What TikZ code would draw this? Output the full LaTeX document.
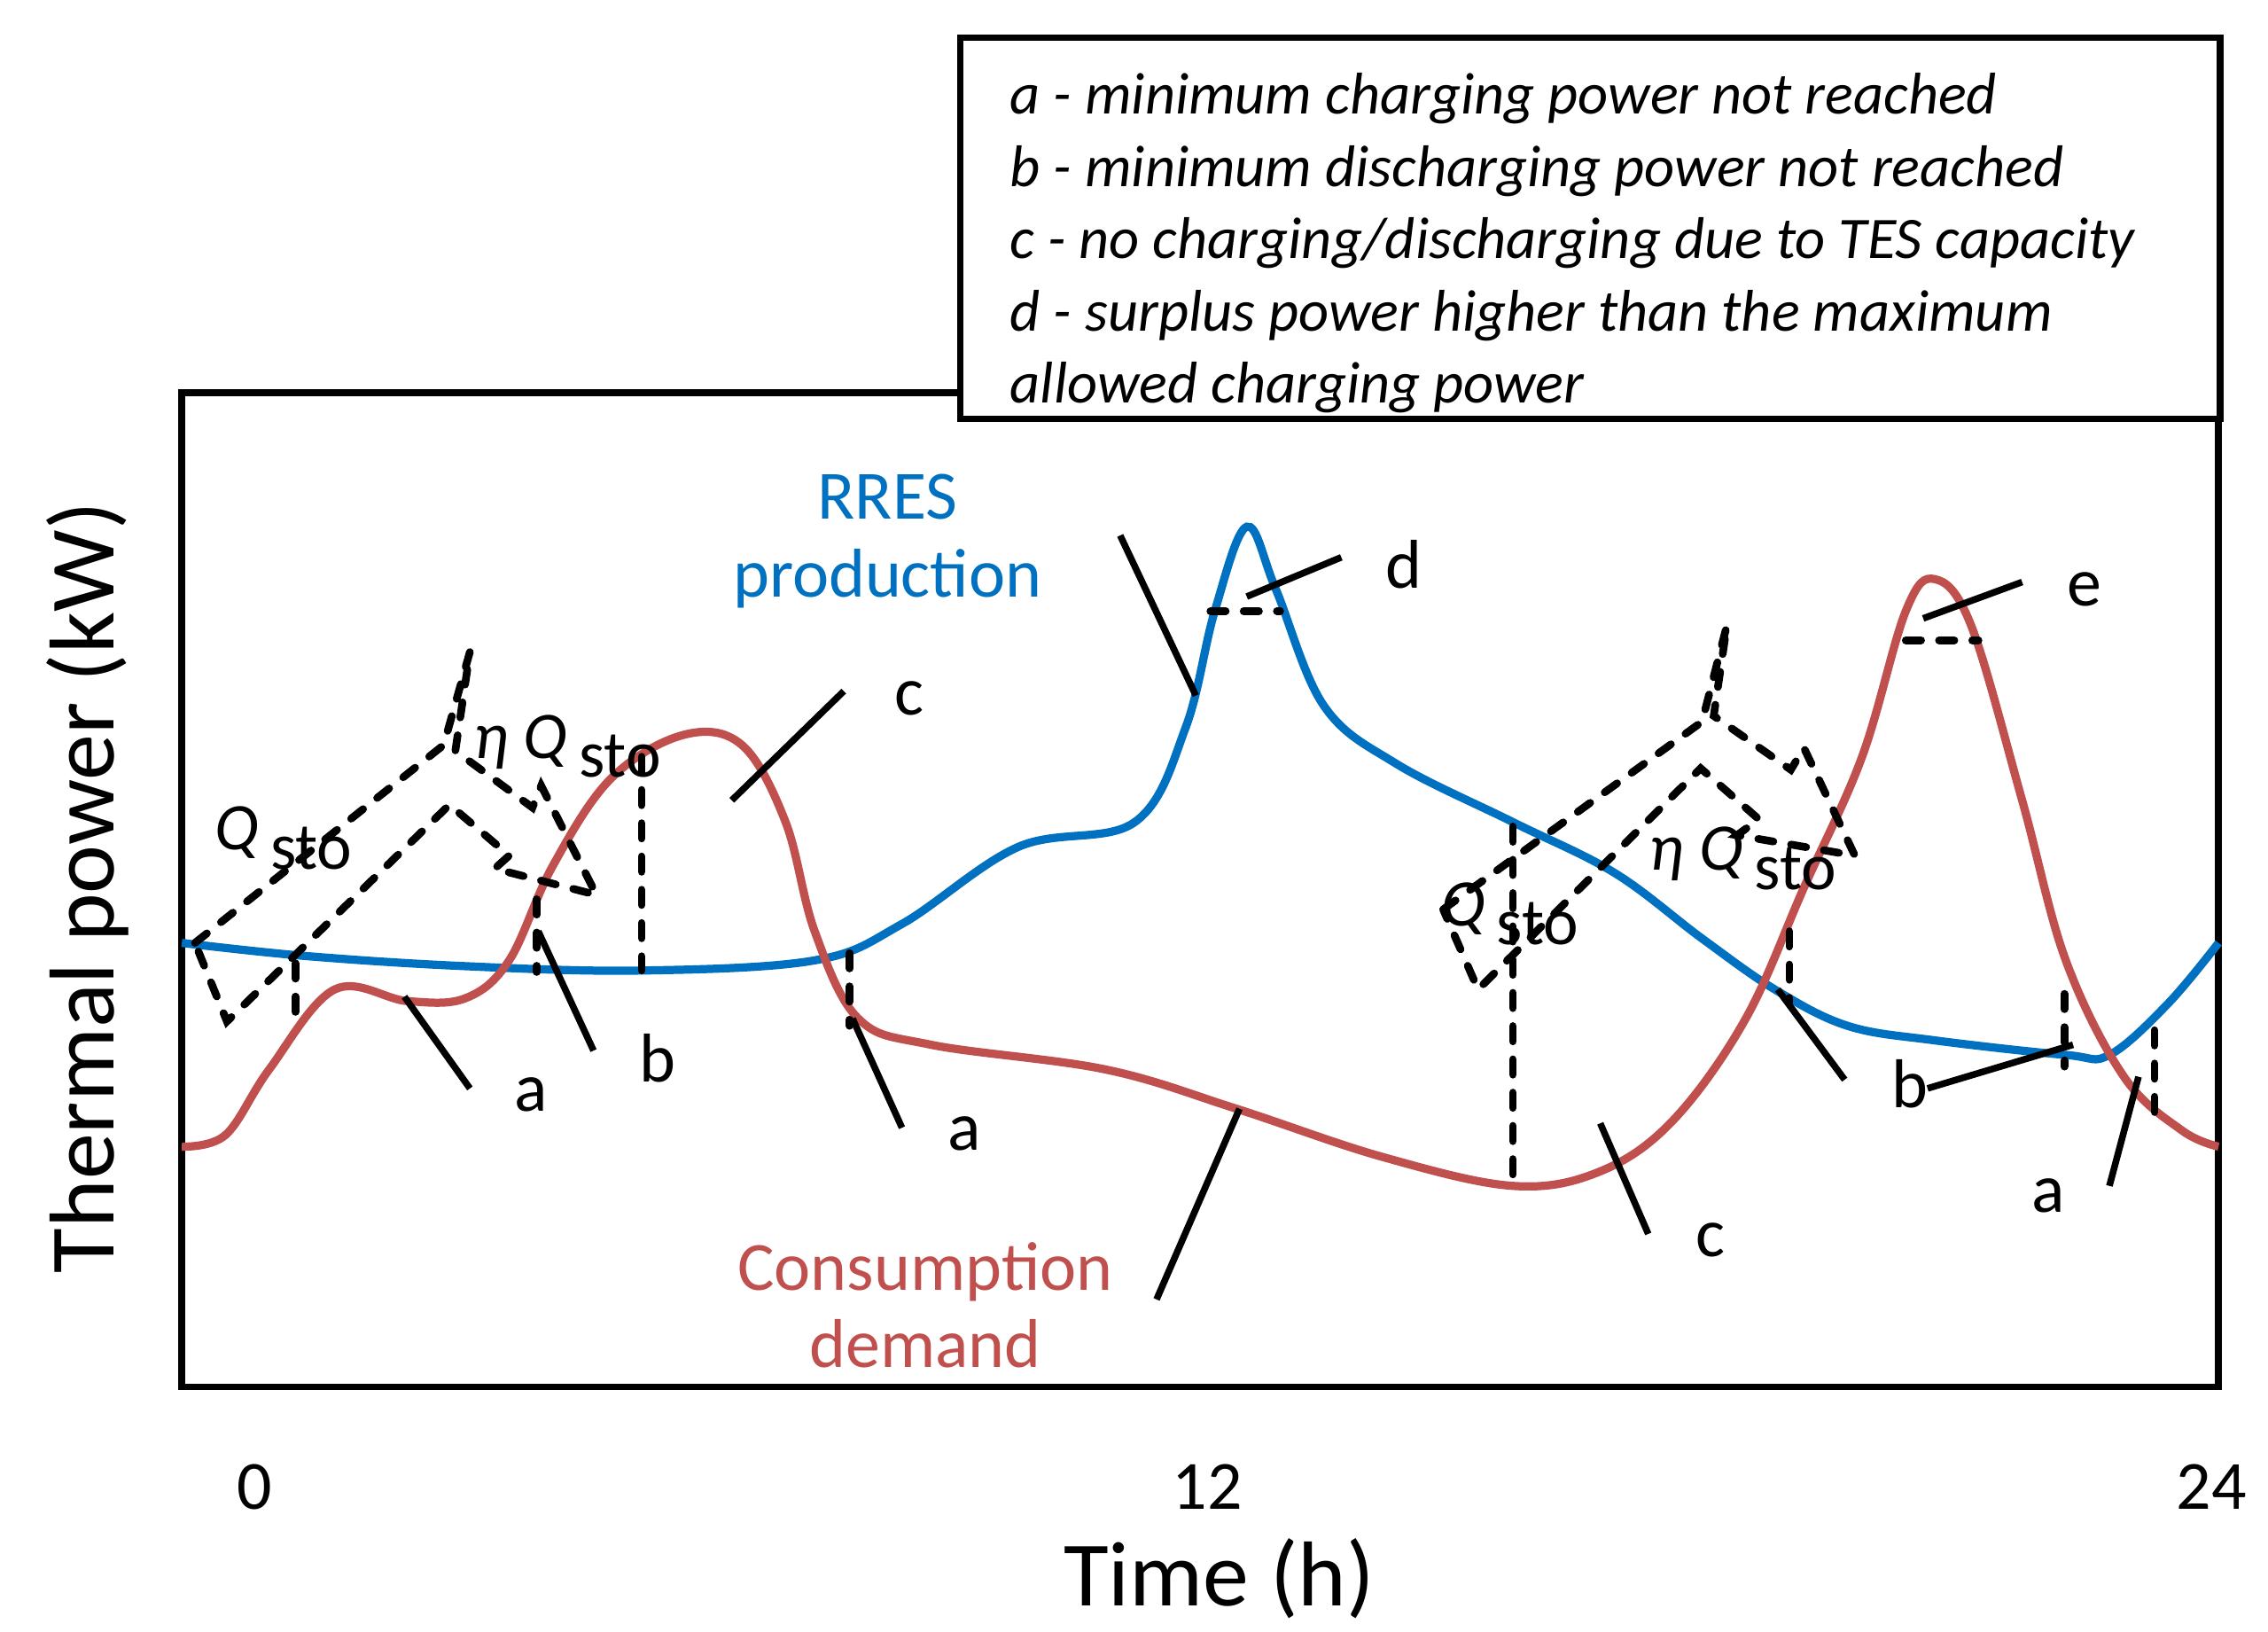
\documentclass[tikz,border=0pt]{standalone}
\usepackage{fontspec}
\setmainfont{Carlito}
\begin{document}
\begin{tikzpicture}[x=0.01cm,y=-0.01cm,
  blu/.style={line width=1.6pt,draw={rgb,255:red,0;green,112;blue,192}},
  rd/.style={line width=1.6pt,draw={rgb,255:red,192;green,80;blue,77}},
  ld/.style={line width=1.3pt},
  dsh/.style={line width=1.5pt,line cap=round,dash pattern=on 3pt off 3.5pt},
  lbl/.style={font=\fontsize{13.5}{16}\selectfont},
  sym/.style={font=\fontsize{13}{16}\selectfont},
  box/.style={draw,line width=1.3pt,inner sep=0pt,outer sep=0pt,anchor=north west}]
\useasboundingbox (0,0) rectangle (1559,1121);
\node[box,minimum width=1400*0.01cm,minimum height=683*0.01cm] (frame) at (125,270) {};
% curves
\draw[blu] plot[smooth,tension=0.6] coordinates {(125,648) (210,657) (320,664) (440,667) (560,660) (620,635) (700,582) (780,565) (815,500) (835,420) (857,362) (877,405) (910,485) (960,525) (1040,565) (1110,600) (1170,645) (1220,680) (1270,705) (1330,715) (1420,725) (1450,725) (1490,690) (1525,648)};
\draw[rd] plot[smooth,tension=0.6] coordinates {(125,788) (155,780) (185,735) (230,680) (280,688) (320,686) (350,660) (380,595) (420,535) (470,505) (510,512) (540,565) (560,640) (590,700) (640,718) (760,735) (850,762) (950,795) (1040,815) (1100,805) (1150,770) (1200,700) (1240,610) (1280,520) (1310,420) (1330,398) (1355,430) (1390,550) (1420,660) (1460,740) (1500,777) (1525,788)};
% dashed markers
\foreach \a/\b/\c in {203/662/705,369/618/668,441/520/667,584/655/705,1040/568/815,1230/640/690,1419/683/733,1481/708/770}
  \draw[dsh] (\a,\b) -- (\a,\c);
\draw[dsh] (832,420) -- (880,420);
\draw[dsh] (1310,440) -- (1360,440);
% arrows
\draw[dsh] (134,648) -- (305,512) -- (323,448) -- (313,516) -- (366,555) -- (372,540) -- (410,615) -- (340,597) -- (350,588) -- (309,553) -- (156,702) -- cycle;
\draw[dsh] (992,625) -- (1170,496) -- (1187,430) -- (1178,492) -- (1231,529) -- (1240,514) -- (1275,588) -- (1194,574) -- (1209,563) -- (1169,528) -- (1016,680) -- cycle;
\node[sym] (q1) at (195,576) {\textit{Q}\,\raisebox{-0.6ex}{sto}};
\node[sym] (q2) at (390,513) {\textit{η Q}\,\raisebox{-0.6ex}{sto}};
\node[sym] (q3) at (1038,628) {\textit{Q}\,\raisebox{-0.6ex}{sto}};
\node[sym] (q4) at (1198,590) {\textit{η Q}\,\raisebox{-0.6ex}{sto}};
% leader lines and labels
\coordinate (l1a) at (278,685); \coordinate (l1b) at (323,748);
\coordinate (l2a) at (370,640); \coordinate (l2b) at (408,722);
\coordinate (l3a) at (503,550); \coordinate (l3b) at (580,475);
\coordinate (l4a) at (586,700); \coordinate (l4b) at (620,775);
\coordinate (l5a) at (770,368); \coordinate (l5b) at (822,478);
\coordinate (l6a) at (857,410); \coordinate (l6b) at (922,383);
\coordinate (l7a) at (795,893); \coordinate (l7b) at (852,762);
\coordinate (l8a) at (1100,772); \coordinate (l8b) at (1133,848);
\coordinate (l9a) at (1222,680); \coordinate (l9b) at (1268,742);
\coordinate (l10a) at (1325,748); \coordinate (l10b) at (1425,718);
\coordinate (l11a) at (1450,815); \coordinate (l11b) at (1470,740);
\coordinate (l12a) at (1322,425); \coordinate (l12b) at (1390,400);
\foreach \i in {1,...,12} \draw[ld] (l\i a) -- (l\i b);
\node[lbl] (ta1) at (365,752) {a};
\node[lbl] (tb1) at (452,727) {b};
\node[lbl] (tc1) at (625,480) {c};
\node[lbl] (ta2) at (663,779) {a};
\node[lbl] (td) at (965,388) {d};
\node[lbl] (tc2) at (1176,852) {c};
\node[lbl] (tb2) at (1313,745) {b};
\node[lbl] (ta3) at (1408,822) {a};
\node[lbl] (te) at (1433,405) {e};
% curve labels
\node[font=\fontsize{13.5}{15.2}\selectfont,text={rgb,255:red,0;green,112;blue,192},align=center] (rres) at (610,372) {RRES\\production};
\node[font=\fontsize{13.5}{15.2}\selectfont,text={rgb,255:red,192;green,80;blue,77},align=center] (cons) at (636,897) {Consumption\\demand};
% axes labels
\node[lbl] (x0) at (175,1022) {0};
\node[lbl] (x12) at (830,1022) {12};
\node[lbl] (x24) at (1520,1022) {24};
\node[font=\fontsize{18}{22}\selectfont] (xl) at (838,1085) {Time (h)};
\node[font=\fontsize{18}{22}\selectfont,rotate=90] (yl) at (60,610) {Thermal power (kW)};
% legend
\node[box,fill=white,minimum width=866*0.01cm,minimum height=262*0.01cm] (leg) at (660,26) {};
\node[anchor=north west,align=left,font=\fontsize{11.5}{14.1}\selectfont\itshape] (legt) at (682,38) {a - minimum charging power not reached\\b - minimum discharging power not reached\\c - no charging/discharging due to TES capacity\\d - surplus power higher than the maximum\\allowed charging power};
\end{tikzpicture}
\end{document}
